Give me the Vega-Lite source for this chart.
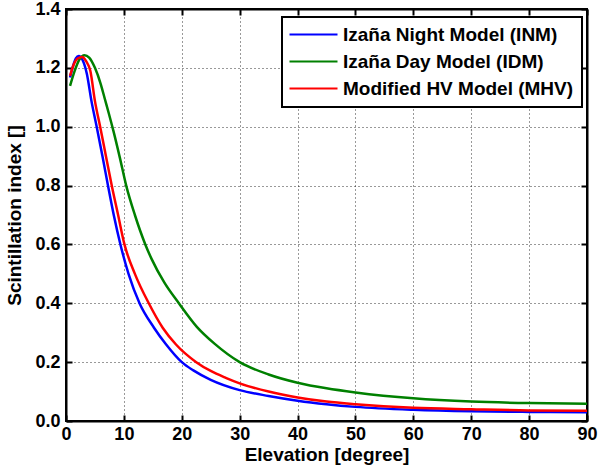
{
  "$schema": "https://vega.github.io/schema/vega-lite/v6.json",
  "width": 521,
  "height": 412,
  "autosize": "none",
  "padding": {"left": 66, "top": 9, "right": 11, "bottom": 53},
  "background": "white",
  "config": {
    "view": {"stroke": "black", "strokeWidth": 2},
    "font": "Liberation Sans",
    "axis": {
      "domainColor": "black", "domainWidth": 2,
      "tickColor": "black", "tickWidth": 2, "tickSize": -6,
      "labelFont": "Liberation Sans", "labelFontSize": 18, "labelFontWeight": "bold", "labelColor": "black",
      "titleFont": "Liberation Sans", "titleFontSize": 19, "titleFontWeight": "bold", "titleColor": "black",
      "grid": true, "gridColor": "black", "gridDash": [1, 3], "gridWidth": 1, "gridOpacity": 0.8
    },
    "legend": {"strokeWidth": 2}
  },
  "data": {"values": [
    {"s": "Izaña Night Model (INM)", "e": 0.7, "v": 1.167},
    {"s": "Izaña Night Model (INM)", "e": 1.2, "v": 1.205},
    {"s": "Izaña Night Model (INM)", "e": 1.7, "v": 1.232},
    {"s": "Izaña Night Model (INM)", "e": 2.2, "v": 1.24},
    {"s": "Izaña Night Model (INM)", "e": 2.9, "v": 1.225},
    {"s": "Izaña Night Model (INM)", "e": 3.6, "v": 1.18},
    {"s": "Izaña Night Model (INM)", "e": 4.4, "v": 1.087},
    {"s": "Izaña Night Model (INM)", "e": 5.3, "v": 1.0},
    {"s": "Izaña Night Model (INM)", "e": 6.3, "v": 0.9},
    {"s": "Izaña Night Model (INM)", "e": 7.25, "v": 0.8},
    {"s": "Izaña Night Model (INM)", "e": 8.25, "v": 0.7},
    {"s": "Izaña Night Model (INM)", "e": 9.4, "v": 0.6},
    {"s": "Izaña Night Model (INM)", "e": 10.8, "v": 0.5},
    {"s": "Izaña Night Model (INM)", "e": 12.7, "v": 0.4},
    {"s": "Izaña Night Model (INM)", "e": 15.2, "v": 0.317},
    {"s": "Izaña Night Model (INM)", "e": 17.3, "v": 0.26},
    {"s": "Izaña Night Model (INM)", "e": 20, "v": 0.2},
    {"s": "Izaña Night Model (INM)", "e": 22, "v": 0.172},
    {"s": "Izaña Night Model (INM)", "e": 25, "v": 0.14},
    {"s": "Izaña Night Model (INM)", "e": 30, "v": 0.105},
    {"s": "Izaña Night Model (INM)", "e": 35, "v": 0.085},
    {"s": "Izaña Night Model (INM)", "e": 40, "v": 0.069},
    {"s": "Izaña Night Model (INM)", "e": 45, "v": 0.057},
    {"s": "Izaña Night Model (INM)", "e": 50, "v": 0.048},
    {"s": "Izaña Night Model (INM)", "e": 60, "v": 0.038},
    {"s": "Izaña Night Model (INM)", "e": 70, "v": 0.033},
    {"s": "Izaña Night Model (INM)", "e": 80, "v": 0.031},
    {"s": "Izaña Night Model (INM)", "e": 90, "v": 0.03},
    {"s": "Izaña Day Model (IDM)", "e": 0.7, "v": 1.139},
    {"s": "Izaña Day Model (IDM)", "e": 1.5, "v": 1.19},
    {"s": "Izaña Day Model (IDM)", "e": 2.3, "v": 1.228},
    {"s": "Izaña Day Model (IDM)", "e": 3.2, "v": 1.243},
    {"s": "Izaña Day Model (IDM)", "e": 4.0, "v": 1.235},
    {"s": "Izaña Day Model (IDM)", "e": 5.0, "v": 1.2},
    {"s": "Izaña Day Model (IDM)", "e": 6.0, "v": 1.145},
    {"s": "Izaña Day Model (IDM)", "e": 6.7, "v": 1.095},
    {"s": "Izaña Day Model (IDM)", "e": 7.4, "v": 1.045},
    {"s": "Izaña Day Model (IDM)", "e": 8.2, "v": 0.985},
    {"s": "Izaña Day Model (IDM)", "e": 9.3, "v": 0.895},
    {"s": "Izaña Day Model (IDM)", "e": 10.4, "v": 0.8},
    {"s": "Izaña Day Model (IDM)", "e": 11.9, "v": 0.7},
    {"s": "Izaña Day Model (IDM)", "e": 13.7, "v": 0.6},
    {"s": "Izaña Day Model (IDM)", "e": 14.8, "v": 0.55},
    {"s": "Izaña Day Model (IDM)", "e": 17.0, "v": 0.47},
    {"s": "Izaña Day Model (IDM)", "e": 19.5, "v": 0.4},
    {"s": "Izaña Day Model (IDM)", "e": 22.6, "v": 0.32},
    {"s": "Izaña Day Model (IDM)", "e": 25.7, "v": 0.262},
    {"s": "Izaña Day Model (IDM)", "e": 30, "v": 0.2},
    {"s": "Izaña Day Model (IDM)", "e": 35, "v": 0.158},
    {"s": "Izaña Day Model (IDM)", "e": 40, "v": 0.13},
    {"s": "Izaña Day Model (IDM)", "e": 45, "v": 0.111},
    {"s": "Izaña Day Model (IDM)", "e": 50, "v": 0.097},
    {"s": "Izaña Day Model (IDM)", "e": 60, "v": 0.077},
    {"s": "Izaña Day Model (IDM)", "e": 70, "v": 0.066},
    {"s": "Izaña Day Model (IDM)", "e": 80, "v": 0.061},
    {"s": "Izaña Day Model (IDM)", "e": 90, "v": 0.059},
    {"s": "Modified HV Model (MHV)", "e": 0.7, "v": 1.173},
    {"s": "Modified HV Model (MHV)", "e": 1.3, "v": 1.21},
    {"s": "Modified HV Model (MHV)", "e": 2.0, "v": 1.232},
    {"s": "Modified HV Model (MHV)", "e": 2.8, "v": 1.237},
    {"s": "Modified HV Model (MHV)", "e": 3.5, "v": 1.222},
    {"s": "Modified HV Model (MHV)", "e": 4.2, "v": 1.19},
    {"s": "Modified HV Model (MHV)", "e": 5.0, "v": 1.087},
    {"s": "Modified HV Model (MHV)", "e": 5.9, "v": 1.0},
    {"s": "Modified HV Model (MHV)", "e": 6.9, "v": 0.9},
    {"s": "Modified HV Model (MHV)", "e": 7.9, "v": 0.8},
    {"s": "Modified HV Model (MHV)", "e": 9.0, "v": 0.7},
    {"s": "Modified HV Model (MHV)", "e": 10.1, "v": 0.6},
    {"s": "Modified HV Model (MHV)", "e": 11.9, "v": 0.5},
    {"s": "Modified HV Model (MHV)", "e": 14.3, "v": 0.4},
    {"s": "Modified HV Model (MHV)", "e": 16.7, "v": 0.317},
    {"s": "Modified HV Model (MHV)", "e": 19.0, "v": 0.26},
    {"s": "Modified HV Model (MHV)", "e": 22.5, "v": 0.2},
    {"s": "Modified HV Model (MHV)", "e": 25, "v": 0.17},
    {"s": "Modified HV Model (MHV)", "e": 27.7, "v": 0.146},
    {"s": "Modified HV Model (MHV)", "e": 30, "v": 0.128},
    {"s": "Modified HV Model (MHV)", "e": 35, "v": 0.1},
    {"s": "Modified HV Model (MHV)", "e": 40, "v": 0.08},
    {"s": "Modified HV Model (MHV)", "e": 45, "v": 0.066},
    {"s": "Modified HV Model (MHV)", "e": 50, "v": 0.057},
    {"s": "Modified HV Model (MHV)", "e": 60, "v": 0.045},
    {"s": "Modified HV Model (MHV)", "e": 70, "v": 0.04},
    {"s": "Modified HV Model (MHV)", "e": 80, "v": 0.036},
    {"s": "Modified HV Model (MHV)", "e": 90, "v": 0.035}
  ]},
  "layer": [
    {
      "mark": {"type": "line", "strokeWidth": 2.5, "interpolate": "monotone", "clip": true},
      "encoding": {
        "x": {"field": "e", "type": "quantitative", "scale": {"domain": [0, 90], "nice": false},
              "axis": {"orient": "bottom", "values": [0,10,20,30,40,50,60,70,80,90], "title": "Elevation [degree]", "labelPadding": 10, "titlePadding": 2, "labelFlush": false}},
        "y": {"field": "v", "type": "quantitative", "scale": {"domain": [0, 1.4], "nice": false},
              "axis": {"orient": "left", "values": [0,0.2,0.4,0.6,0.8,1,1.2,1.4], "title": "Scintillation index []", "labelPadding": 12, "titlePadding": 10, "labelFlush": false}},
        "color": {"field": "s", "type": "nominal",
                  "scale": {"domain": ["Izaña Night Model (INM)", "Izaña Day Model (IDM)", "Modified HV Model (MHV)"], "range": ["#0000ff", "#008000", "#ff0000"]},
                  "legend": {"title": null, "orient": "none", "legendX": 216, "legendY": 8,
                             "symbolType": "M-2.5,0H9.5", "symbolSize": 64, "symbolStrokeWidth": 2, "symbolFillColor": "transparent",
                             "labelFont": "Liberation Sans", "labelFontSize": 19, "labelFontWeight": "bold", "labelColor": "black",
                             "labelLimit": 400, "labelOffset": 34, "rowPadding": 7, "padding": 8,
                             "strokeColor": "black", "fillColor": "white"}}
      }
    },
    {
      "mark": {"type": "line", "opacity": 0},
      "encoding": {
        "x": {"field": "e", "type": "quantitative",
              "axis": {"orient": "top", "values": [0,10,20,30,40,50,60,70,80,90], "labels": false, "title": null, "grid": false}},
        "y": {"field": "v", "type": "quantitative",
              "axis": {"orient": "right", "values": [0,0.2,0.4,0.6,0.8,1,1.2,1.4], "labels": false, "title": null, "grid": false}},
        "detail": {"field": "s"}
      }
    }
  ],
  "resolve": {"axis": {"x": "independent", "y": "independent"}}
}
